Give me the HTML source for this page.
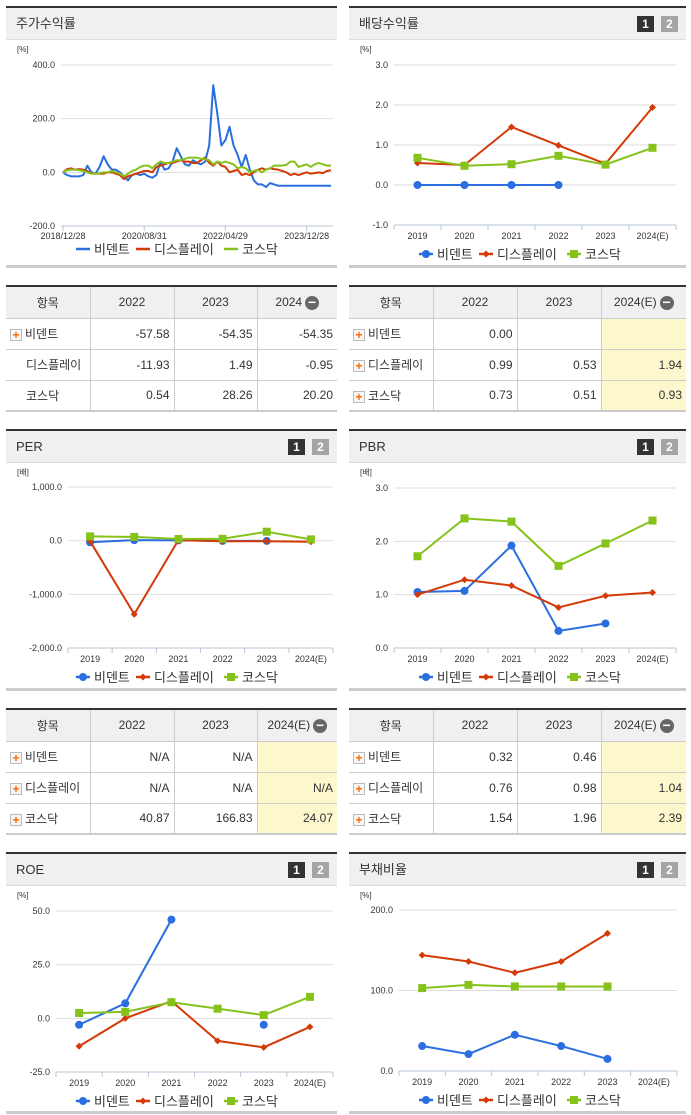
<!DOCTYPE html>
<html><head><meta charset="utf-8">
<style>
*{box-sizing:border-box;margin:0;padding:0}
body{width:691px;height:1115px;background:#fff;position:relative;overflow:hidden;font-family:"Liberation Sans","Noto Sans CJK KR",sans-serif;color:#333}
.panel{position:absolute;border-top:2px solid #333;border-bottom:3px solid #ccc}
.hdr{height:32px;background:#f0f0f0;border-bottom:1px solid #ddd;font-size:13px;line-height:31px;padding-left:10px;position:relative}
.btn{position:absolute;top:8px;width:17px;height:16px;font-size:12px;font-weight:bold;color:#fff;text-align:center;line-height:16px}
.b1{background:#333;right:32px}.b2{background:#a5a5a5;right:8px}
table{position:absolute;border-collapse:collapse;border-top:2px solid #333;border-bottom:2px solid #ccc;font-size:12px}
td,th{border:1px solid #ccc;height:31px;font-weight:normal;vertical-align:middle}
th{background:#f0f0f0;text-align:center;height:32px;white-space:nowrap}
td{text-align:right;padding-right:4px}
td.n{text-align:left;padding-left:4px}
tr td:first-child,tr th:first-child{border-left:none}
tr td:last-child,tr th:last-child{border-right:none}
.y{background:#fdf7cd}
.pl{display:inline-block;width:12px;height:12px;border:1px solid #bbb;background:#f7f7f7;color:#f60;font-size:12px;line-height:10px;text-align:center;vertical-align:middle;margin-right:3px;font-weight:bold}
.mi{display:inline-block;width:14px;height:14px;border-radius:7px;background:#666;color:#fff;line-height:13px;font-size:14px;font-weight:bold;vertical-align:middle;margin-left:3px}
#svg{position:absolute;left:0;top:0}
</style></head><body>
<div class="panel" style="left:6px;top:6px;width:331px;height:262px"><div class="hdr">주가수익률</div></div>
<div class="panel" style="left:349px;top:6px;width:337px;height:262px"><div class="hdr">배당수익률<span class="btn b1">1</span><span class="btn b2">2</span></div></div>
<div class="panel" style="left:6px;top:429px;width:331px;height:262px"><div class="hdr">PER<span class="btn b1">1</span><span class="btn b2">2</span></div></div>
<div class="panel" style="left:349px;top:429px;width:337px;height:262px"><div class="hdr">PBR<span class="btn b1">1</span><span class="btn b2">2</span></div></div>
<div class="panel" style="left:6px;top:852px;width:331px;height:262px"><div class="hdr">ROE<span class="btn b1">1</span><span class="btn b2">2</span></div></div>
<div class="panel" style="left:349px;top:852px;width:337px;height:262px"><div class="hdr">부채비율<span class="btn b1">1</span><span class="btn b2">2</span></div></div>

<table style="left:6px;top:285px;width:331px">
<tr><th style="width:84px">항목</th><th style="width:84px">2022</th><th style="width:83px">2023</th><th>2024<span class="mi">−</span></th></tr>
<tr><td class="n"><span class="pl">+</span>비덴트</td><td>-57.58</td><td>-54.35</td><td>-54.35</td></tr>
<tr><td class="n" style="padding-left:20px">디스플레이</td><td>-11.93</td><td>1.49</td><td>-0.95</td></tr>
<tr><td class="n" style="padding-left:20px">코스닥</td><td>0.54</td><td>28.26</td><td>20.20</td></tr>
</table>
<table style="left:349px;top:285px;width:337px">
<tr><th style="width:84px">항목</th><th style="width:84px">2022</th><th style="width:84px">2023</th><th>2024(E)<span class="mi">−</span></th></tr>
<tr><td class="n"><span class="pl">+</span>비덴트</td><td>0.00</td><td></td><td class="y"></td></tr>
<tr><td class="n"><span class="pl">+</span>디스플레이</td><td>0.99</td><td>0.53</td><td class="y">1.94</td></tr>
<tr><td class="n"><span class="pl">+</span>코스닥</td><td>0.73</td><td>0.51</td><td class="y">0.93</td></tr>
</table>
<table style="left:6px;top:708px;width:331px">
<tr><th style="width:84px">항목</th><th style="width:84px">2022</th><th style="width:83px">2023</th><th>2024(E)<span class="mi">−</span></th></tr>
<tr><td class="n"><span class="pl">+</span>비덴트</td><td>N/A</td><td>N/A</td><td class="y"></td></tr>
<tr><td class="n"><span class="pl">+</span>디스플레이</td><td>N/A</td><td>N/A</td><td class="y">N/A</td></tr>
<tr><td class="n"><span class="pl">+</span>코스닥</td><td>40.87</td><td>166.83</td><td class="y">24.07</td></tr>
</table>
<table style="left:349px;top:708px;width:337px">
<tr><th style="width:84px">항목</th><th style="width:84px">2022</th><th style="width:84px">2023</th><th>2024(E)<span class="mi">−</span></th></tr>
<tr><td class="n"><span class="pl">+</span>비덴트</td><td>0.32</td><td>0.46</td><td class="y"></td></tr>
<tr><td class="n"><span class="pl">+</span>디스플레이</td><td>0.76</td><td>0.98</td><td class="y">1.04</td></tr>
<tr><td class="n"><span class="pl">+</span>코스닥</td><td>1.54</td><td>1.96</td><td class="y">2.39</td></tr>
</table>

<svg id="svg" width="691" height="1115" xmlns="http://www.w3.org/2000/svg" font-family="Liberation Sans, Noto Sans CJK KR, sans-serif"></svg>
<script>
const cats=["2019","2020","2021","2022","2023","2024(E)"];
const stockBlue=[0,-10,-15,-15,-15,-10,25,0,-5,20,60,30,10,10,0,-15,-30,-10,-5,-10,-5,-15,-20,-10,40,10,15,40,90,60,30,25,45,35,30,40,100,325,220,100,120,170,100,65,20,65,10,-30,-45,-45,-55,-40,-45,-50,-50,-50,-50,-50,-50,-50,-50,-50,-50,-50,-50,-50,-50];
const stockRed=[0,12,15,10,12,10,5,-5,-5,-5,-5,0,0,-5,-10,-25,-15,-10,-5,0,5,5,0,20,25,30,35,35,40,45,40,40,35,35,45,55,35,25,40,25,20,0,5,10,-10,-5,-10,0,10,15,10,15,12,10,5,0,-10,-5,-10,-5,0,-5,-3,0,-3,5,8];
const stockGreen=[0,8,10,10,8,5,0,-5,-5,-3,0,0,5,0,-5,-15,-5,5,10,20,25,25,15,30,40,35,35,40,45,45,50,55,55,55,50,50,45,30,40,35,40,35,30,15,20,15,0,5,10,0,10,15,25,25,25,28,40,40,20,25,30,20,30,35,30,25,25];
const stockTicks=["400.0","200.0","0.0","-200.0"];
const stockDates=["2018/12/28","2020/08/31","2022/04/29","2023/12/28"];
const stockDateIdx=[0,20,40,60];
const divBlue=[0,0,0,0,null,null];
const divRed=[0.55,0.5,1.45,0.99,0.53,1.94];
const divGreen=[0.68,0.48,0.52,0.73,0.51,0.93];
const divTicks=["3.0","2.0","1.0","0.0","-1.0"];
const perBlue=[-30,10,5,-5,-5,null];
const perRed=[-10,-1370,10,-10,-10,-20];
const perGreen=[80,70,30,35,167,24];
const perTicks=["1,000.0","0.0","-1,000.0","-2,000.0"];
const pbrBlue=[1.05,1.07,1.92,0.32,0.46,null];
const pbrRed=[1.0,1.28,1.17,0.76,0.98,1.04];
const pbrGreen=[1.72,2.43,2.37,1.54,1.96,2.39];
const pbrTicks=["3.0","2.0","1.0","0.0"];
const roeBlue=[-3,7,46,null,-3,null];
const roeRed=[-13,0,8,-10.5,-13.5,-4];
const roeGreen=[2.5,3,7.5,4.5,1.5,10];
const roeTicks=["50.0","25.0","0.0","-25.0"];
const debtBlue=[31,21,45,31,15,null];
const debtRed=[144,136,122,136,171,null];
const debtGreen=[103,107,105,105,105,null];
const debtTicks=["200.0","100.0","0.0"];
const names=["비덴트","디스플레이","코스닥"];
const cols=["#2a6ee0","#d33a08","#85c21a"];

const svg=document.getElementById('svg');
const NS="http://www.w3.org/2000/svg";
function mk(tag,at,parent){const e=document.createElementNS(NS,tag);for(const k in at)e.setAttribute(k,at[k]);(parent||svg).appendChild(e);return e;}
function txt(x,y,s,anchor,size,parent){const t=mk('text',{x:x,y:y,'text-anchor':anchor,'font-size':size,fill:'#333'},parent);t.textContent=s;return t;}
function marker(kind,x,y,c,g){
  if(kind===0)return mk('circle',{cx:x,cy:y,r:4,fill:c},g);
  if(kind===1)return mk('path',{d:`M${x} ${y-3.5}L${x+3.5} ${y}L${x} ${y+3.5}L${x-3.5} ${y}Z`,fill:c},g);
  return mk('rect',{x:x-4,y:y-4,width:8,height:8,fill:c},g);
}
function legend(cx,y,withMarker){
  const g=mk('g',{});
  
  
  const widths=[60,88,56];let x=cx-102;
  for(let i=0;i<3;i++){
    const e=mk('g',{},g);
    
    
    mk('line',{x1:x,y1:y,x2:x+14,y2:y,stroke:cols[i],'stroke-width':2.5},e);
    if(withMarker)marker(i,x+7,y,cols[i],e);
    txt(x+18,y+5,names[i],'start',13,e);
    x+=widths[i];
  }
}
function axes(L,R,vTop,vBot,yTop,yBot,ticks,tickVals,unitX,unitY,unit,name){
  const g=mk('g',{});
  
  
  const sy=v=>yTop+(vTop-v)*(yBot-yTop)/(vTop-vBot);
  ticks.forEach((t,i)=>{const y=sy(tickVals[i]);
    if(i<ticks.length-1)mk('line',{x1:L,y1:y,x2:R,y2:y,stroke:'#ddd','stroke-width':1},g);
    txt(L-6,y+3,t,'end',9,g);});
  mk('line',{x1:L,y1:yBot,x2:R,y2:yBot,stroke:'#b8c4d4','stroke-width':1},g);
  txt(unitX,unitY,unit,'start',8,g);
  return sy;
}
function catChart(L,R,vTop,vBot,yTop,yBot,ticks,tickVals,unitX,unitY,unit,series,name,legendX){
  const sy=axes(L,R,vTop,vBot,yTop,yBot,ticks,tickVals,unitX,unitY,unit,name);
  const bw=(R-L)/cats.length;const sx=i=>L+bw*(i+0.5);
  for(let i=0;i<=cats.length;i++)mk('line',{x1:L+bw*i,y1:yBot,x2:L+bw*i,y2:yBot+5,stroke:'#b8c4d4'});
  cats.forEach((c,i)=>txt(sx(i),yBot+14,c,'middle',9));
  series.forEach((arr,k)=>{
    const g=mk('g',{});
    
    
    let d='';let pen=false;
    arr.forEach((v,i)=>{if(v===null){pen=false;return;}d+=(pen?'L':'M')+sx(i)+' '+sy(v);pen=true;});
    mk('path',{d:d,fill:'none',stroke:cols[k],'stroke-width':2},g);
    arr.forEach((v,i)=>{if(v!==null){const m=marker(k,sx(i),sy(v),cols[k],g);
      
      }});
  });
  legend(legendX,yBot+29,true);
}
(function(){
  const L=61,R=333,sy=axes(L,R,400,-200,65,226,stockTicks,[400,200,0,-200],17,52,'[%]','stock-return');
  const x0=63,x1=331,n=stockBlue.length;const sx=i=>x0+i*(x1-x0)/(n-1);
  stockDates.forEach((d,i)=>{const x=sx(stockDateIdx[i]);mk('line',{x1:x,y1:226,x2:x,y2:231,stroke:'#b8c4d4'});txt(x,239,d,'middle',9);});
  [stockBlue,stockRed,stockGreen].forEach((arr,k)=>{
    const p=mk('path',{d:arr.map((v,i)=>(i?'L':'M')+sx(i)+' '+sy(v)).join(''),fill:'none',stroke:cols[k],'stroke-width':2,'stroke-linejoin':'round'});
    
    
  });
  legend(178,249,false);
})();
catChart(394,676,3,-1,65,225,divTicks,[3,2,1,0,-1],360,52,'[%]',[divBlue,divRed,divGreen],'dividend',521);
catChart(68,333,1000,-2000,487,648,perTicks,[1000,0,-1000,-2000],17,475,'[배]',[perBlue,perRed,perGreen],'per',178);
catChart(394,676,3,0,488,648,pbrTicks,[3,2,1,0],360,475,'[배]',[pbrBlue,pbrRed,pbrGreen],'pbr',521);
catChart(56,333,50,-25,911,1072,roeTicks,[50,25,0,-25],17,898,'[%]',[roeBlue,roeRed,roeGreen],'roe',178);
catChart(399,677,200,0,910,1071,debtTicks,[200,100,0],360,898,'[%]',[debtBlue,debtRed,debtGreen],'debt-ratio',521);
</script>
</body></html>
